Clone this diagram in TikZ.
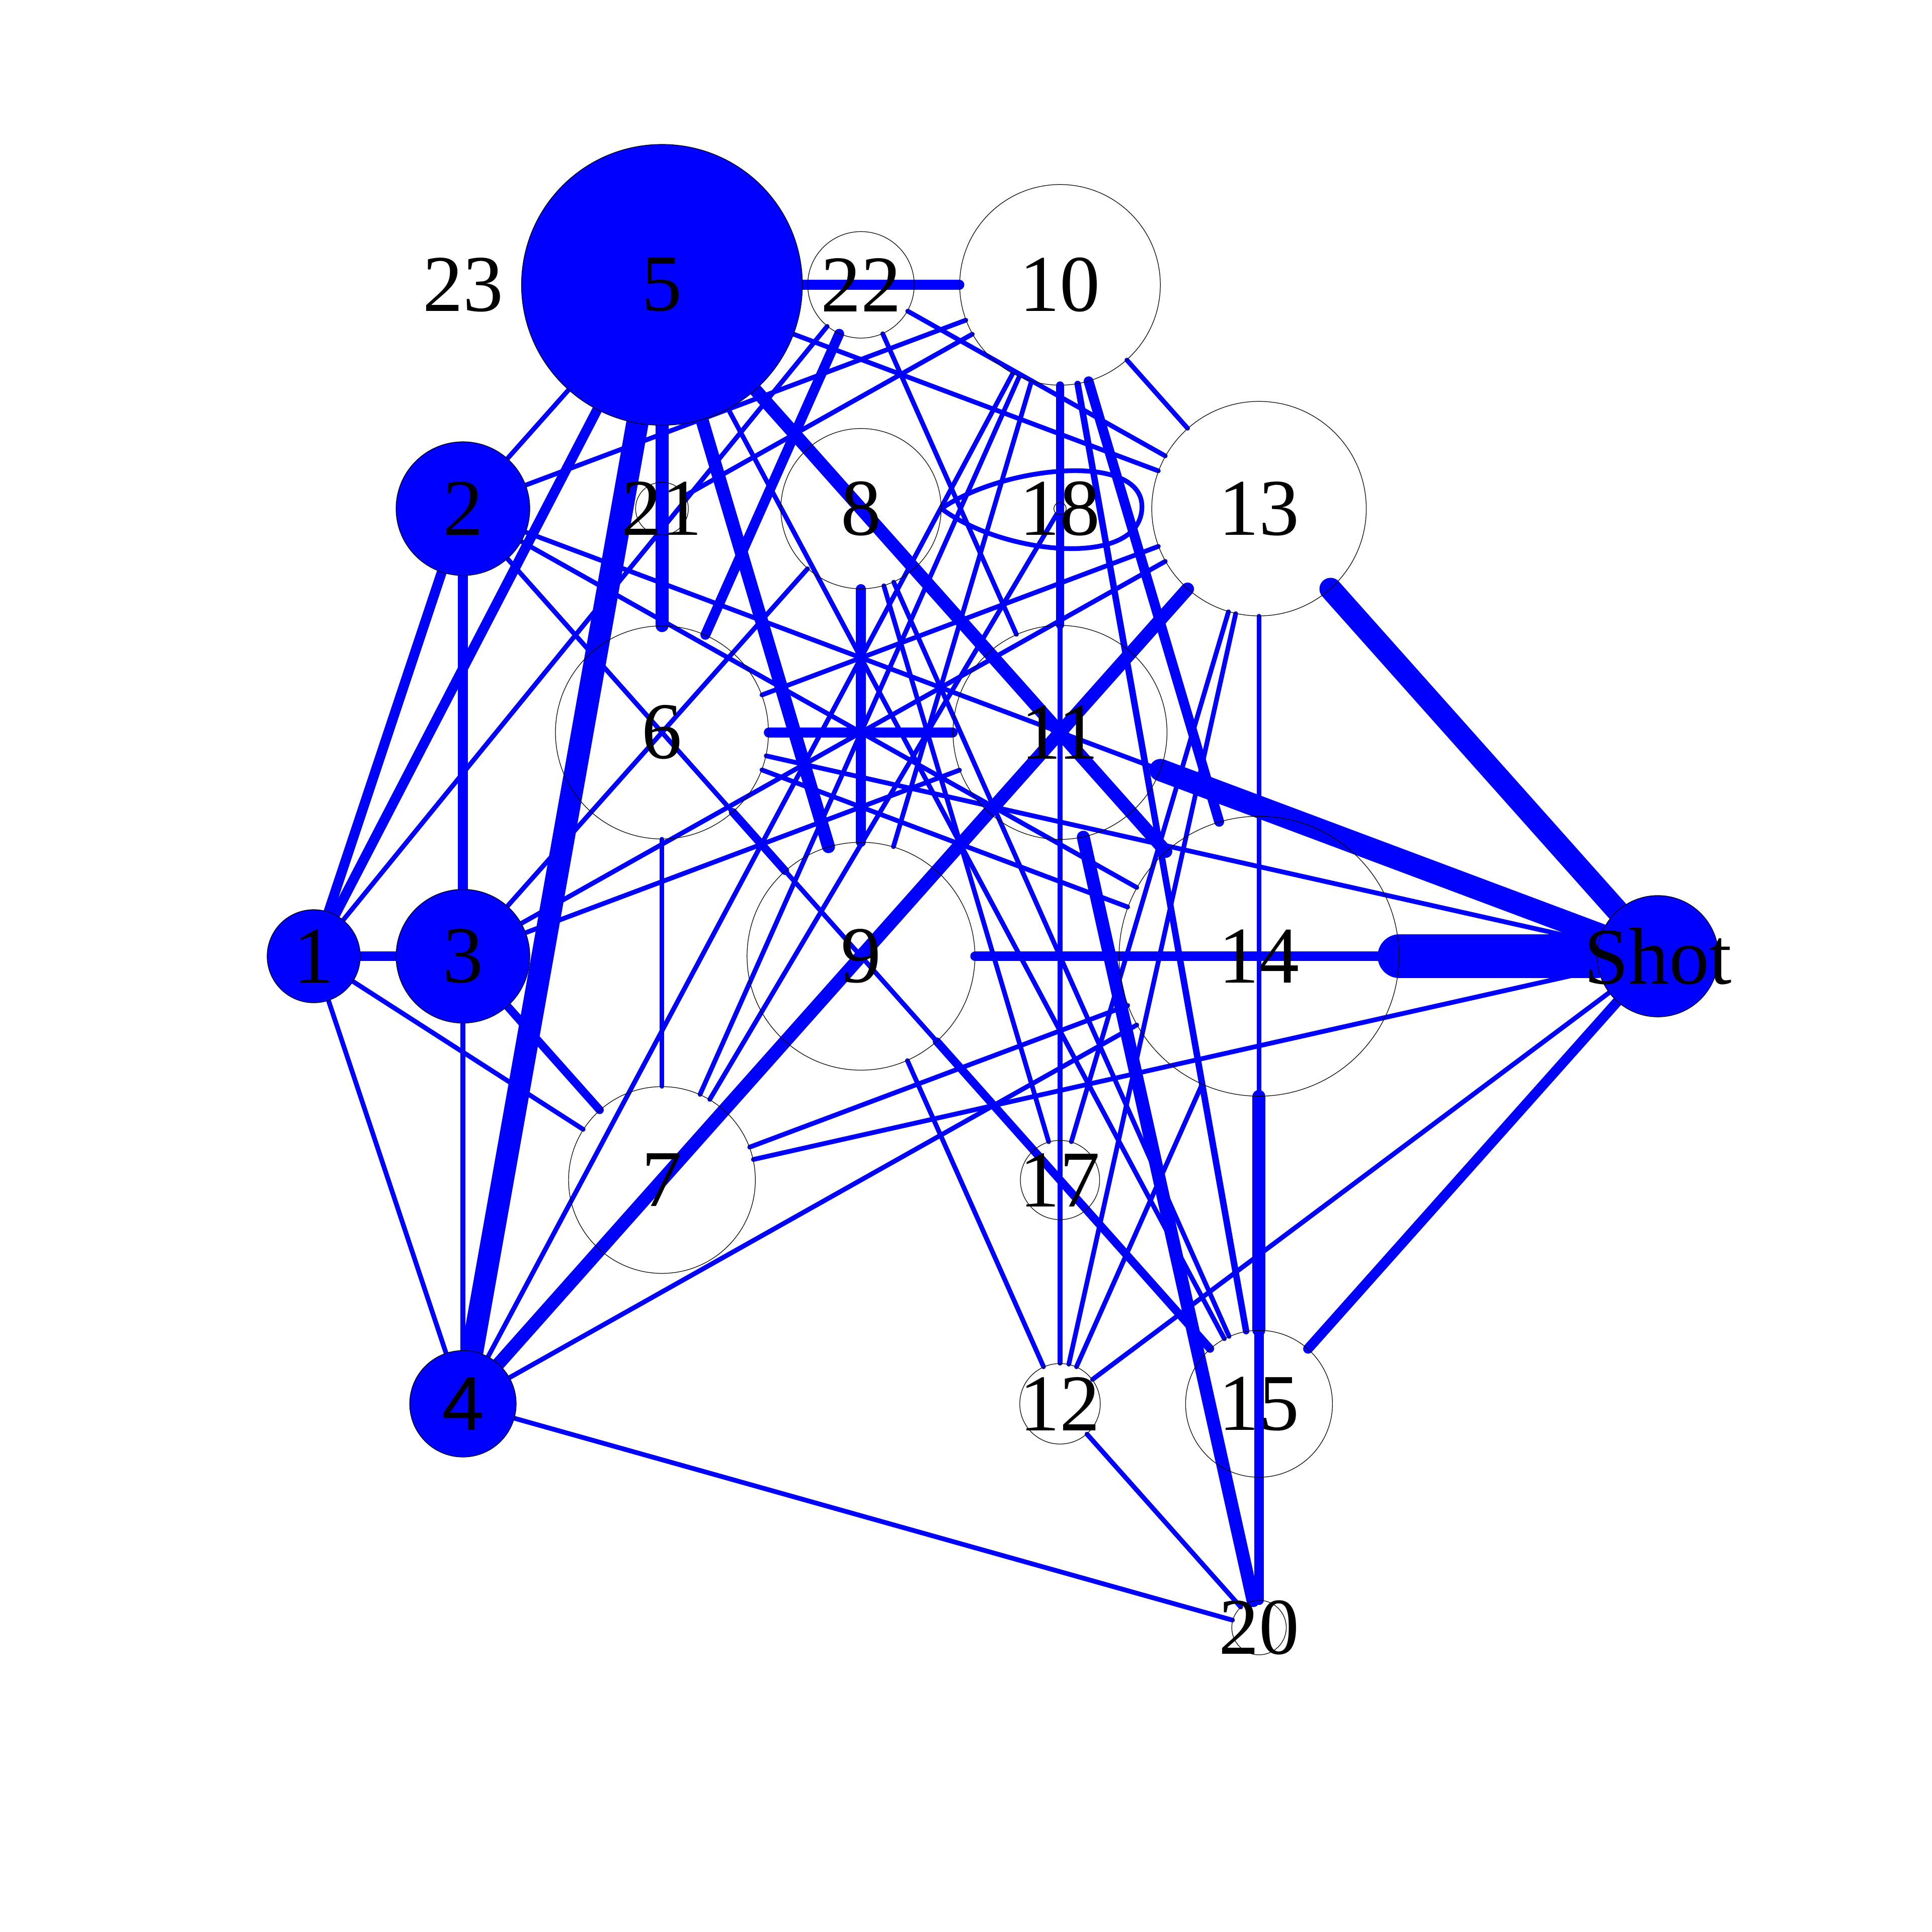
\documentclass[tikz,border=0pt]{standalone}
\usepackage{fontspec}
\setmainfont{Liberation Serif}
\newfontfamily\sansfour{Liberation Sans}
\usepackage{tikz}
\usetikzlibrary{positioning,backgrounds}
\tikzstyle{vfull} = [circle, draw=black, line width=0.05mm, fill=blue, inner sep=0pt]
\tikzstyle{vempty} = [circle, draw=black, line width=0.05mm, inner sep=0pt]
\tikzstyle{vnone} = [inner sep=0pt, minimum size=0pt]
\tikzstyle{lbl} = [font=\fontsize{18.5}{20}\selectfont, inner sep=0pt]
\tikzstyle{lblsans} = [font=\sansfour\fontsize{17.5}{19}\selectfont, inner sep=0pt]
\tikzstyle{pw1} = [blue, line cap=round, line width=0.38mm]
\tikzstyle{pw2} = [blue, line cap=round, line width=0.52mm]
\tikzstyle{pw3} = [blue, line cap=round, line width=0.66mm]
\tikzstyle{pw4} = [blue, line cap=round, line width=0.8mm]
\tikzstyle{pw5} = [blue, line cap=round, line width=1.05mm]
\tikzstyle{pw6} = [blue, line cap=round, line width=1.8mm]
\tikzstyle{pw7} = [blue, line cap=round, line width=3.5mm]
\begin{document}
\begin{tikzpicture}[x=0.1mm,y=-0.1mm,line cap=round,on grid,node distance=18.07mm and 16.07mm]
  \useasboundingbox (0,0) rectangle (1560,1560);
  \node[vfull, minimum size=22.68mm, label={[lbl]center:5}] (P_5) at (534.5,230) {};
  \node[vnone, label={[lbl]center:23}] (P_23) [left=of P_5] {};
  \node[vempty, minimum size=8.6mm, label={[lbl]center:22}] (P_22) [right=of P_5] {};
  \node[vempty, minimum size=16.2mm, label={[lbl]center:10}] (P_10) [right=of P_22] {};
  \node[vempty, minimum size=4.26mm, label={[lbl]center:21}] (P_21) [below=of P_5] {};
  \node[vfull, minimum size=10.8mm, label={[lbl]center:2}] (P_2) [left=of P_21] {};
  \node[vempty, minimum size=12.94mm, label={[lbl]center:8}] (P_8) [right=of P_21] {};
  \node[vempty, minimum size=1mm, label={[lbl]center:18}] (P_18) [right=of P_8] {};
  \node[vempty, minimum size=17.32mm, label={[lbl]center:13}] (P_13) [right=of P_18] {};
  \node[vempty, minimum size=17.2mm, label={[lbl]center:6}] (P_6) [below=of P_21] {};
  \node[vempty, minimum size=17.28mm, label={[lbl]center:11}] (P_11) [below=of P_18] {};
  \node[vfull, minimum size=10.8mm, label={[lbl]center:3}] (P_3) [below left=of P_6] {};
  \node[vfull, minimum size=7.52mm, label={[lbl]center:1}] (P_1) [left=12.05mm of P_3] {};
  \node[vempty, minimum size=18.4mm, label={[lbl]center:9}] (P_9) [below right=of P_6] {};
  \node[vempty, minimum size=22.6mm, label={[lbl]center:14}] (P_14) [below right=of P_11] {};
  \node[vfull, minimum size=9.8mm, label={[lbl]center:Shot}] (P_Shot) [right=32.2mm of P_14] {};
  \node[vempty, minimum size=15.08mm, label={[lbl]center:7}] (P_7) [below left=of P_9] {};
  \node[vempty, minimum size=6.4mm, label={[lbl]center:17}] (P_17) [below right=of P_9] {};
  \node[vfull, minimum size=8.6mm, label={[lblsans]center:4}] (P_4) [below left=of P_7] {};
  \node[vempty, minimum size=6.5mm, label={[lbl]center:12}] (P_12) [below=of P_17] {};
  \node[vempty, minimum size=11.86mm, label={[lbl]center:15}] (P_15) [right=of P_12] {};
  \node[vempty, minimum size=4.4mm, label={[lbl]center:20}] (P_20) [below=of P_15] {};

  \begin{scope}[on background layer]
  \path (P_2) edge[pw1] (P_5);
  \path (P_2) edge[pw1] (P_10);
  \path (P_2) edge[pw1] (P_Shot);
  \path (P_2) edge[pw1] (P_14);
  \path (P_2) edge[pw1] (P_15);
  \path (P_1) edge[pw1] (P_22);
  \path (P_1) edge[pw1] (P_7);
  \path (P_1) edge[pw1] (P_4);
  \path (P_3) edge[pw1] (P_8);
  \path (P_3) edge[pw1] (P_13);
  \path (P_3) edge[pw1] (P_11);
  \path (P_3) edge[pw1] (P_4);
  \path (P_4) edge[pw1] (P_10);
  \path (P_4) edge[pw1] (P_14);
  \path (P_4) edge[pw1] (P_20);
  \path (P_5) edge[pw1] (P_13);
  \path (P_5) edge[pw1] (P_15);
  \path (P_6) edge[pw1] (P_7);
  \path (P_6) edge[pw1] (P_13);
  \path (P_6) edge[pw1] (P_14);
  \path (P_6) edge[pw1] (P_Shot);
  \path (P_7) edge[pw1] (P_10);
  \path (P_7) edge[pw1] (P_18);
  \path (P_7) edge[pw1] (P_14);
  \path (P_7) edge[pw1] (P_Shot);
  \path (P_8) edge[pw1] (P_17);
  \path (P_8) edge[pw1] (P_15);
  \path (P_9) edge[pw1] (P_10);
  \path (P_9) edge[pw1] (P_12);
  \path (P_10) edge[pw1] (P_21);
  \path (P_10) edge[pw1] (P_13);
  \path (P_10) edge[pw1] (P_12);
  \path (P_12) edge[pw1] (P_13);
  \path (P_12) edge[pw1] (P_14);
  \path (P_12) edge[pw1] (P_Shot);
  \path (P_12) edge[pw1] (P_20);
  \path (P_13) edge[pw1] (P_17);
  \path (P_13) edge[pw1] (P_15);
  \path (P_22) edge[pw1] (P_13);
  \path (P_22) edge[pw1] (P_11);
  \path (P_10) edge[pw2] (P_15);
  \path (P_3) edge[pw3] (P_7);
  \path (P_6) edge[pw3] (P_9);
  \path (P_9) edge[pw3] (P_15);
  \path (P_10) edge[pw3] (P_11);
  \path (P_1) edge[pw4] (P_2);
  \path (P_1) edge[pw4] (P_3);
  \path (P_2) edge[pw4] (P_3);
  \path (P_1) edge[pw4] (P_5);
  \path (P_5) edge[pw4] (P_10);
  \path (P_22) edge[pw4] (P_6);
  \path (P_8) edge[pw4] (P_9);
  \path (P_6) edge[pw4] (P_11);
  \path (P_9) edge[pw4] (P_Shot);
  \path (P_15) edge[pw4] (P_Shot);
  \path (P_10) edge[pw4] (P_14);
  \path (P_14) edge[pw4] (P_20);
  \path (P_5) edge[pw5] (P_6);
  \path (P_5) edge[pw5] (P_9);
  \path (P_5) edge[pw5] (P_14);
  \path (P_4) edge[pw5] (P_13);
  \path (P_14) edge[pw5] (P_15);
  \path (P_11) edge[pw5] (P_20);
  \path (P_5) edge[pw6] (P_4);
  \path (P_11) edge[pw6] (P_Shot);
  \path (P_13) edge[pw6] (P_Shot);
  \path (P_14) edge[pw7] (P_Shot);
  \draw[pw1] (P_8.east) .. controls (810,376) and (925,364) .. (922,411) .. controls (919,459) and (810,448) .. (P_8.east);
  \end{scope}
\end{tikzpicture}
\end{document}
